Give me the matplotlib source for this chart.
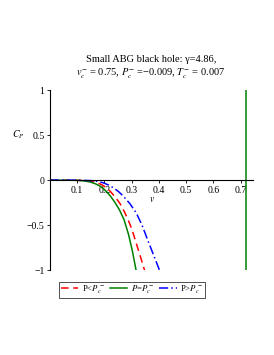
import matplotlib
matplotlib.use("Agg")
import matplotlib.pyplot as plt

plt.rcParams['font.family'] = ['Liberation Serif', 'DejaVu Serif']
plt.rcParams['mathtext.fontset'] = 'stix'

# data
v_low = [0.0, 0.05, 0.10, 0.13, 0.15, 0.17, 0.19, 0.205, 0.22, 0.24, 0.257, 0.273, 0.288, 0.30, 0.3125, 0.33, 0.347]
cp_low = [0.0, 0.0, -0.001, -0.004, -0.01, -0.025, -0.05, -0.08, -0.12, -0.19, -0.26, -0.35, -0.45, -0.54, -0.66, -0.83, -1.0]
v_eq = [0.0, 0.05, 0.10, 0.125, 0.147, 0.165, 0.184, 0.20, 0.22, 0.238, 0.255, 0.272, 0.288, 0.302, 0.316]
cp_eq = [0.0, 0.0, -0.002, -0.008, -0.02, -0.038, -0.066, -0.105, -0.17, -0.245, -0.33, -0.44, -0.60, -0.78, -1.0]
v_high = [0.0, 0.05, 0.10, 0.15, 0.175, 0.196, 0.215, 0.233, 0.252, 0.27, 0.293, 0.316, 0.338, 0.358, 0.38, 0.402]
cp_high = [0.0, 0.0, -0.001, -0.005, -0.014, -0.03, -0.054, -0.085, -0.128, -0.18, -0.26, -0.36, -0.50, -0.66, -0.83, -1.0]
v_vert = [0.72, 0.72]
cp_vert = [-1.0, 1.0]
xticks = [0.1, 0.2, 0.3, 0.4, 0.5, 0.6, 0.7]
yticks = [-1, -0.5, 0, 0.5, 1]
ytick_labels = ['\u22121', '\u22120.5', '0', '0.5', '1']

fig = plt.figure(figsize=(2.74, 3.55), dpi=100)
ax = fig.add_axes([0.1825, 0.239, 0.7405, 0.507])

l1, = ax.plot(v_low, cp_low, color='red', lw=1.1, ls=(0, (5, 3)))
l2, = ax.plot(v_eq, cp_eq, color='#008000', lw=1.1)
l3, = ax.plot(v_high, cp_high, color='blue', lw=1.1, ls=(0, (6, 2, 1, 2)))
ax.plot(v_vert, cp_vert, color='#008000', lw=1.1)

ax.set_xlim(0, 0.745)
ax.set_ylim(-1, 1)
ax.spines['top'].set_visible(False)
ax.spines['right'].set_visible(False)
ax.spines['bottom'].set_position(('data', 0))
ax.spines['left'].set_linewidth(0.8)
ax.spines['bottom'].set_linewidth(0.8)
ax.set_xticks(xticks)
ax.set_xticklabels([str(t) for t in xticks])
ax.set_yticks(yticks)
ax.set_yticklabels(ytick_labels)
ax.tick_params(labelsize=7, length=2, width=0.6, pad=2)

ax.text(-0.118, 0.5, '$C_P$', fontsize=7, ha='center', va='center')
ax.text(0.375, -0.21, '$v$', fontsize=7, ha='center', va='center')

fig.text(0.55, 0.833, 'Small ABG black hole: \u03b3=4.86,', fontsize=7.5, ha='center', va='center')
fig.text(0.55, 0.795, '$v_c^{-}$ = 0.75, $P_c^{-}$ =\u22120.009, $T_c^{-}$ = 0.007',
         fontsize=7.5, ha='center', va='center')

leg = fig.legend([l1, l2, l3], ['P<$P_c^-$', '$P$=$P_c^-$', 'P>$P_c^-$'],
                 loc='center', bbox_to_anchor=(0.482, 0.184), ncol=3, fontsize=6.3,
                 frameon=True, fancybox=False, edgecolor='black', handlelength=2.0,
                 columnspacing=0.6, handletextpad=0.4, borderpad=0.2, borderaxespad=0)
leg.get_frame().set_linewidth(0.6)

fig.savefig('out.png', dpi=100)
